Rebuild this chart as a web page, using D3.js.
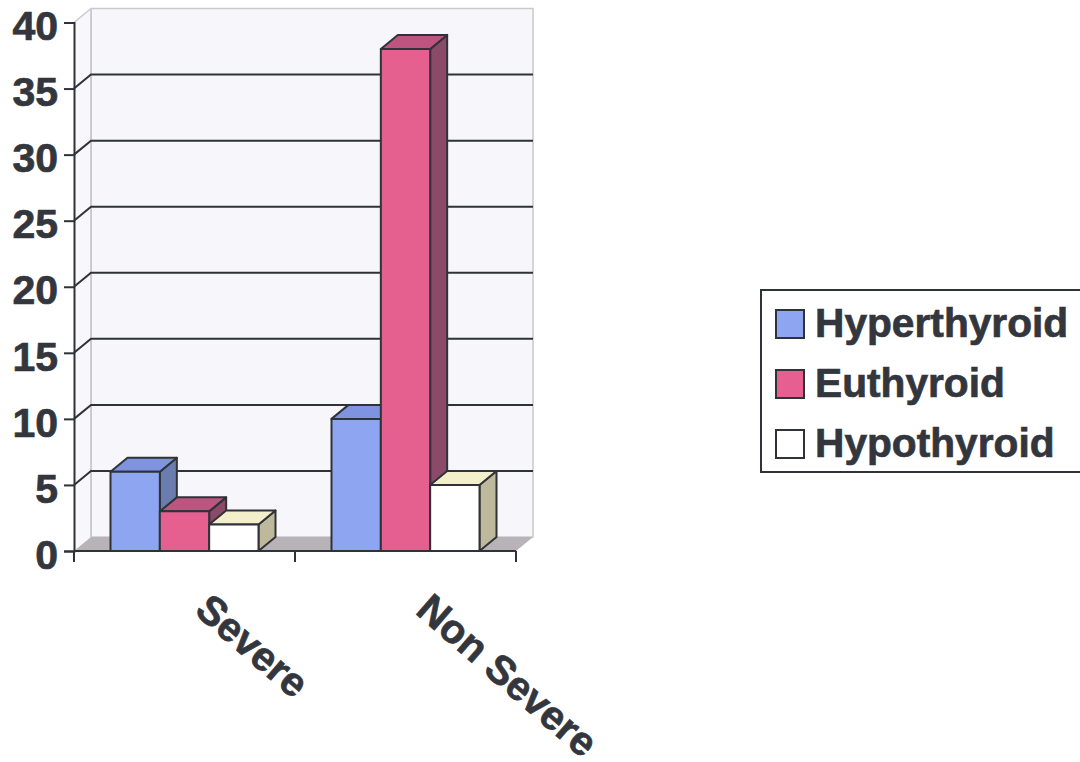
<!DOCTYPE html>
<html>
<head>
<meta charset="utf-8">
<script src="https://cdnjs.cloudflare.com/ajax/libs/d3/7.8.5/d3.min.js"></script>
<style>
html,body{margin:0;padding:0;background:#fff}
svg{display:block}
text{font-family:"Liberation Sans",Arial,sans-serif;font-weight:700;fill:#33363d;stroke:#33363d;stroke-width:.7px}
</style>
</head>
<body>
<svg id="chart" width="1080" height="762"></svg>
<script>
const categories = ["Severe", "Non Severe"];
const seriesNames = ["Hyperthyroid", "Euthyroid", "Hypothyroid"];
const hyperthyroid = [6, 10];
const euthyroid = [3, 38];
const hypothyroid = [2, 5];
const seriesValues = [hyperthyroid, euthyroid, hypothyroid];
const yTicks = [0, 5, 10, 15, 20, 25, 30, 35, 40];

// front, top and side shades of each series
const palette = [
  {front: "#8ea6f2", top: "#7f93e0", side: "#6b7cae"},
  {front: "#e5608f", top: "#bd5580", side: "#8a4a68"},
  {front: "#ffffff", top: "#f3efcb", side: "#bfb99c"}
];
const ink = "#2f3339";

const svg = d3.select("#chart");
const y = d3.scaleLinear().domain([0, 40]).range([551, 22.5]);
const x0 = d3.scaleBand().domain(categories).range([74, 516]).paddingInner(0).paddingOuter(0);
const x1 = d3.scaleBand().domain(seriesNames).range([36.5, x0.bandwidth() - 36.5]);
const depth = {dx: 17, dy: -14};
const poly = pts => pts.map(p => p.join(",")).join(" ");

// back wall and left wall
const [left, right] = x0.range();
const [base, top40] = y.range();
svg.append("polygon")
  .attr("points", poly([[left + depth.dx, base + depth.dy], [right + depth.dx, base + depth.dy], [right + depth.dx, top40 + depth.dy], [left + depth.dx, top40 + depth.dy]]))
  .attr("fill", "#f7f6fa").attr("stroke", "#cbc7d0").attr("stroke-width", 1.5);
svg.append("polygon")
  .attr("points", poly([[left, base], [left + depth.dx, base + depth.dy], [left + depth.dx, top40 + depth.dy], [left, top40]]))
  .attr("fill", "#f8f7fb").attr("stroke", "none");
svg.append("line")
  .attr("x1", left).attr("x2", left + depth.dx)
  .attr("y1", top40).attr("y2", top40 + depth.dy)
  .attr("stroke", "#cbc7d0").attr("stroke-width", 1.5);
svg.append("line")
  .attr("x1", left + depth.dx).attr("x2", left + depth.dx)
  .attr("y1", base + depth.dy).attr("y2", top40 + depth.dy)
  .attr("stroke", "#cbc7d0").attr("stroke-width", 1.8);

// floor
svg.append("polygon")
  .attr("points", poly([[left, base], [right, base], [right + depth.dx, base + depth.dy], [left + depth.dx, base + depth.dy]]))
  .attr("fill", "#b8b3b6");

// gridlines run across the back wall and fold down the left wall
yTicks.filter(t => t > 0 && t < 40).forEach(t => {
  svg.append("polyline")
    .attr("points", poly([[left, y(t)], [left + depth.dx, y(t) + depth.dy], [right + depth.dx, y(t) + depth.dy]]))
    .attr("fill", "none").attr("stroke", ink).attr("stroke-width", 2);
});

// value axis and base line
const axisY = d3.axisLeft(y).tickValues(yTicks).tickSize(10).tickPadding(6);
const gy = svg.append("g").attr("transform", `translate(${left},0)`).call(axisY);
gy.selectAll("text")
  .attr("font-size", 41)
  .attr("dy", "0.42em")
  .style("font-family", '"Liberation Sans",Arial,sans-serif')
  .style("font-weight", 700)
  .attr("fill", "#33363d");
gy.selectAll("line,path").attr("stroke", ink).attr("stroke-width", 2);

svg.append("line").attr("x1", left).attr("x2", right).attr("y1", base).attr("y2", base).attr("stroke", ink).attr("stroke-width", 2);
[left, left + x0.step(), right].forEach(px => {
  svg.append("line").attr("x1", px).attr("x2", px).attr("y1", base).attr("y2", base + 11).attr("stroke", ink).attr("stroke-width", 2);
});

// three-sided bars, back to front within each group
categories.forEach((cat, c) => {
  seriesNames.forEach((name, s) => {
    const xl = x0(cat) + x1(name), xr = xl + x1.bandwidth();
    const yt = y(seriesValues[s][c]);
    const g = svg.append("g").attr("stroke", ink).attr("stroke-width", 2).attr("stroke-linejoin", "round");
    g.append("polygon").attr("fill", palette[s].side)
      .attr("points", poly([[xr, yt], [xr + depth.dx, yt + depth.dy], [xr + depth.dx, base + depth.dy], [xr, base]]));
    g.append("polygon").attr("fill", palette[s].top)
      .attr("points", poly([[xl, yt], [xl + depth.dx, yt + depth.dy], [xr + depth.dx, yt + depth.dy], [xr, yt]]));
    g.append("polygon").attr("fill", palette[s].front)
      .attr("points", poly([[xl, yt], [xr, yt], [xr, base], [xl, base]]));
  });
});

// slanted category labels
categories.forEach(cat => {
  svg.append("text")
    .attr("transform", `translate(${x0(cat) + x0.bandwidth() / 2 + 18},602) rotate(41)`)
    .attr("font-size", 40.5)
    .attr("dy", "0.35em")
    .text(cat);
});

// legend
const lg = svg.append("g").attr("transform", "translate(761,290)");
lg.append("rect").attr("width", 330).attr("height", 182).attr("fill", "#fff").attr("stroke", ink).attr("stroke-width", 2);
seriesNames.forEach((name, s) => {
  const row = lg.append("g").attr("transform", `translate(0,${s * 60})`);
  row.append("rect").attr("x", 15).attr("y", 20).attr("width", 28).attr("height", 28)
    .attr("fill", palette[s].front).attr("stroke", ink).attr("stroke-width", 2);
  row.append("text").attr("x", 54).attr("y", 47).attr("font-size", 40.7).text(name);
});
</script>
</body>
</html>
